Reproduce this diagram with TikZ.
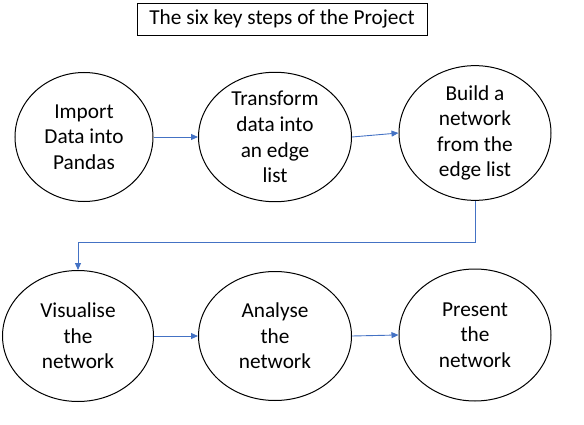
\documentclass[tikz,border=0pt]{standalone}
\usepackage{fontspec}
\setmainfont{Carlito}
\usetikzlibrary{shapes.geometric,arrows.meta}
\definecolor{arrowblue}{HTML}{4472C4}
\tikzset{
  stepnode/.style={draw=black, line width=1pt, ellipse, inner sep=0pt, align=center,
    font=\fontsize{21.3}{25.6}\selectfont},
  flow/.style={draw=arrowblue, line width=0.9pt, -{Triangle[length=7pt,width=6pt]}},
  titlebox/.style={draw=black, line width=0.9pt, minimum width=290pt, minimum height=32pt,
    font=\fontsize{21.3}{25}\selectfont, inner sep=0pt}
}
\begin{document}
\begin{tikzpicture}[x=1pt,y=-1pt]
\useasboundingbox (0,0) rectangle (584,425);
\node[titlebox] (title) at (282,19) {The six key steps of the Project};
\node[stepnode, minimum width=138pt, minimum height=129pt] (s1) at (84,137) {Import\\Data into\\Pandas};
\node[stepnode, minimum width=153pt, minimum height=126pt] (s2) at (275,137) {Transform\\data into\\an edge\\list};
\node[stepnode, minimum width=152pt, minimum height=131pt] (s3) at (475,133) {Build a\\network\\from the\\edge list};
\node[stepnode, minimum width=151pt, minimum height=131pt] (s4) at (78,336) {Visualise\\the\\network};
\node[stepnode, minimum width=153pt, minimum height=129pt] (s5) at (275,336) {Analyse\\the\\network};
\node[stepnode, minimum width=152pt, minimum height=132pt] (s6) at (475,335) {Present\\the\\network};
\draw[flow] (s1.east) -- (s2.west);
\draw[flow] (s2.east) -- (s3.west);
\draw[flow] (s3.south) |- (78,242) -- (s4.north);
\draw[flow] (s4.east) -- (s5.west);
\draw[flow] (s5.east) -- (s6.west);
\end{tikzpicture}
\end{document}
